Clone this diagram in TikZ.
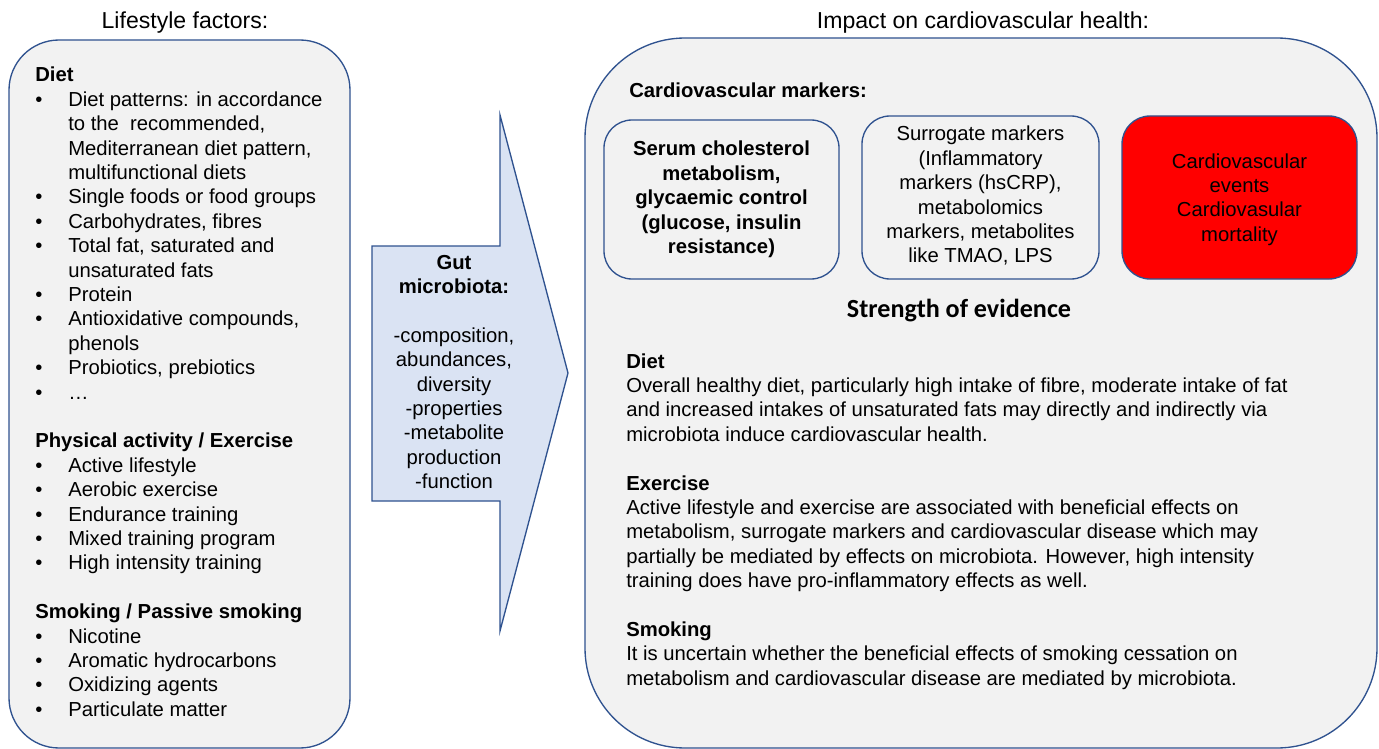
\documentclass[tikz,border=0pt]{standalone}
\usepackage{fontspec}
\setmainfont{Liberation Sans}
\newfontfamily\calibri{Carlito}
\definecolor{bord}{HTML}{2F528F}
\definecolor{boxgray}{HTML}{F2F2F2}
\definecolor{arrowblue}{HTML}{DAE3F3}
\definecolor{hotred}{HTML}{FF0000}
\newcommand\bul[1]{\makebox[24.75pt][l]{\textbullet}#1}
\newcommand\ind[1]{\hspace*{24.75pt}#1}
\begin{document}
\begin{tikzpicture}[x=0.75pt,y=-0.75pt,
  panel/.style={draw=bord,fill=boxgray,line width=1pt},
  markbox/.style={draw=bord,line width=1pt,rounded corners=21pt},
  txt/.style={inner sep=0pt,anchor=base west,font=\fontsize{15.2}{18.3}\selectfont},
  ctxt/.style={inner sep=0pt,anchor=base,font=\fontsize{15.2}{18.3}\selectfont},
  ttl/.style={inner sep=0pt,anchor=base,font=\fontsize{17.3}{20}\selectfont}]
\useasboundingbox (0,0) rectangle (1379,749);
\fill[white] (0,0) rectangle (1379,749);

% panels
\draw[panel,rounded corners=37.5pt] (9,40) rectangle (350,748);
\draw[panel,rounded corners=75pt] (585,38) rectangle (1377,748);

% arrow
\draw[draw=bord,fill=arrowblue,line width=1pt,line join=miter]
  (372,246) -- (500,246) -- (500,115) -- (568,373) -- (500,631) -- (500,501) -- (372,501) -- cycle;

% titles
\node[ttl] (lifestyle) at (185,29) {Lifestyle factors:};
\node[ttl] (impact) at (983,29) {Impact on cardiovascular health:};

% left list
\node[txt] (lefttext) at (35,82) {\parbox[t]{300pt}{%
\textbf{Diet}\\
\bul{Diet patterns: in accordance}\\
\ind{to the\ \ recommended,}\\
\ind{Mediterranean diet pattern,}\\
\ind{multifunctional diets}\\
\bul{Single foods or food groups}\\
\bul{Carbohydrates, fibres}\\
\bul{Total fat, saturated and}\\
\ind{unsaturated fats}\\
\bul{Protein}\\
\bul{Antioxidative compounds,}\\
\ind{phenols}\\
\bul{Probiotics, prebiotics}\\
\bul{…}\\
\mbox{}\\
\textbf{Physical activity / Exercise}\\
\bul{Active lifestyle}\\
\bul{Aerobic exercise}\\
\bul{Endurance training}\\
\bul{Mixed training program}\\
\bul{High intensity training}\\
\mbox{}\\
\textbf{Smoking / Passive smoking}\\
\bul{Nicotine}\\
\bul{Aromatic hydrocarbons}\\
\bul{Oxidizing agents}\\
\bul{Particulate matter}}};

% arrow text
\node[ctxt] (gut) at (454,269) {\parbox[t]{120pt}{\centering
\textbf{Gut}\\
\textbf{microbiota:}\\
\mbox{}\\
-composition,\\
abundances,\\
diversity\\
-properties\\
-metabolite\\
production\\
-function}};

% right panel
\node[txt] (cvm) at (629,98) {\textbf{Cardiovascular markers:}};

\draw[markbox,fill=boxgray] (604,120) rectangle (839,279);
\draw[markbox,fill=boxgray] (862,116) rectangle (1099,279);
\draw[markbox,fill=hotred] (1122,116) rectangle (1357,279);

\node[ctxt] (serum) at (721.5,156) {\parbox[t]{170pt}{\centering\bfseries
Serum cholesterol\\
metabolism,\\
glycaemic control\\
(glucose, insulin\\
resistance)}};
\node[ctxt] (surrogate) at (980.5,141) {\parbox[t]{172pt}{\centering
Surrogate markers\\
(Inflammatory\\
markers (hsCRP),\\
metabolomics\\
markers, metabolites\\
like TMAO, LPS}};
\node[ctxt] (events) at (1239.5,168) {\parbox[t]{170pt}{\centering
Cardiovascular\\
events\\
Cardiovasular\\
mortality}};

\node[inner sep=0pt,anchor=base,font=\calibri\bfseries\fontsize{19.6}{22}\selectfont] (strength) at (959,317) {Strength of evidence};

\node[txt] (righttext) at (626,368) {\parbox[t]{560pt}{%
\textbf{Diet}\\
Overall healthy diet, particularly high intake of fibre, moderate intake of fat\\
and increased intakes of unsaturated fats may directly and indirectly via\\
microbiota induce cardiovascular health.\\
\mbox{}\\
\textbf{Exercise}\\
Active lifestyle and exercise are associated with beneficial effects on\\
metabolism, surrogate markers and cardiovascular disease which may\\
partially be mediated by effects on microbiota. However, high intensity\\
training does have pro-inflammatory effects as well.\\
\mbox{}\\
\textbf{Smoking}\\
It is uncertain whether the beneficial effects of smoking cessation on\\
metabolism and cardiovascular disease are mediated by microbiota.}};
\end{tikzpicture}
\end{document}
